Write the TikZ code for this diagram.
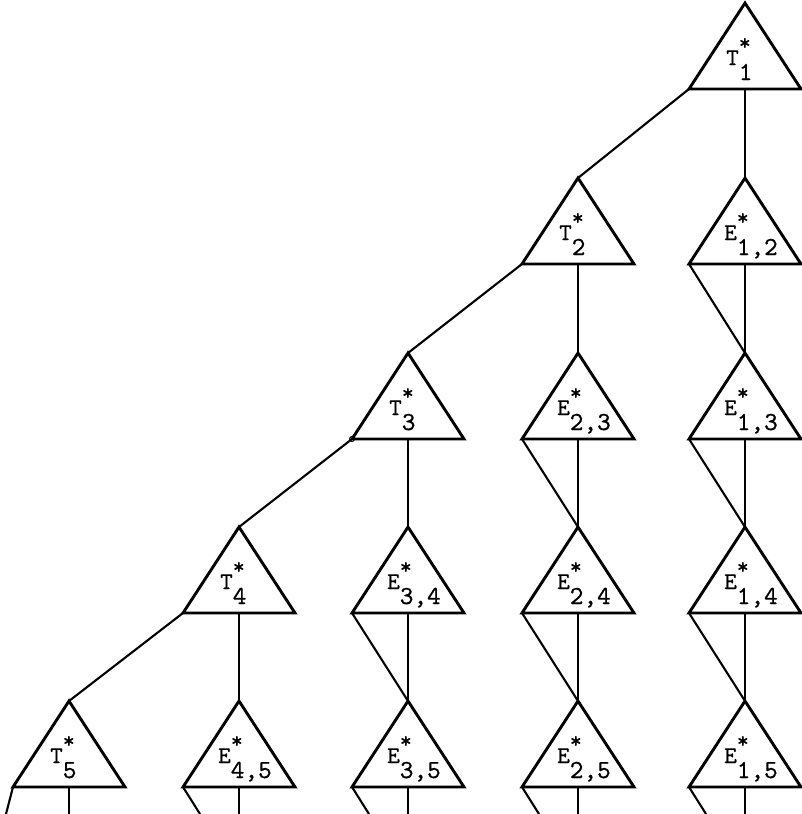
\documentclass[tikz,border=0pt]{standalone}
\usepackage{fontspec}
\newfontfamily\labfont{lmmono10-regular.otf}[FakeBold=0.6]
\tikzset{
  tri/.style={line width=2.9pt, line join=miter},
  conn/.style={line width=2.1pt},
  lbl/.style={inner sep=0pt, anchor=base west, font=\labfont},
}
\newcommand{\trilabel}[2]{{\fontsize{24}{24}\selectfont #1}\rlap{\raisebox{15pt}{\fontsize{23}{23}\selectfont *}}\raisebox{-15pt}{\fontsize{26}{26}\selectfont #2}}
\newcommand{\mktri}[6]{%
  \coordinate (#1a) at (#2,#3);
  \coordinate (#1l) at ({#2-56},{#3+86});
  \coordinate (#1r) at ({#2+56},{#3+86});
  \coordinate (#1m) at (#2,{#3+86});
  \draw[tri] (#1a) -- (#1l) -- (#1r) -- cycle;
  \node[lbl] (#1t) at ({#2+#6},{#3+62}) {\trilabel{#4}{#5}};
}
\begin{document}
\begin{tikzpicture}[x=1pt,y=-1pt]
\useasboundingbox (0,0) rectangle (802,814);
% triangles
\mktri{T1}{745}{3}{T}{1}{-19}
\mktri{T2}{578}{178}{T}{2}{-19}
\mktri{T3}{408}{353}{T}{3}{-19}
\mktri{T4}{239}{527}{T}{4}{-19}
\mktri{T5}{69}{701}{T}{5}{-19}
\mktri{E12}{745}{178}{E}{1,2}{-21}
\mktri{E13}{745}{353}{E}{1,3}{-21}
\mktri{E14}{745}{527}{E}{1,4}{-21}
\mktri{E15}{745}{701}{E}{1,5}{-21}
\mktri{E23}{578}{353}{E}{2,3}{-21}
\mktri{E24}{578}{527}{E}{2,4}{-21}
\mktri{E25}{578}{701}{E}{2,5}{-21}
\mktri{E34}{408}{527}{E}{3,4}{-21}
\mktri{E35}{408}{701}{E}{3,5}{-21}
\mktri{E45}{239}{701}{E}{4,5}{-21}
% T chain
\draw[conn] (T1l) -- (T2a);
\draw[conn] (T2l) -- (T3a);
\draw[conn] (T3l) -- (T4a);
\draw[conn] (T4l) -- (T5a);
\draw[line width=1pt] (T3l) circle (2.5pt);
% T to E
\draw[conn] (T1m) -- (E12a);
\draw[conn] (T2m) -- (E23a);
\draw[conn] (T3m) -- (E34a);
\draw[conn] (T4m) -- (E45a);
% E chains
\draw[conn] (E12m) -- (E13a); \draw[conn] (E12l) -- (E13a);
\draw[conn] (E13m) -- (E14a); \draw[conn] (E13l) -- (E14a);
\draw[conn] (E14m) -- (E15a); \draw[conn] (E14l) -- (E15a);
\draw[conn] (E23m) -- (E24a); \draw[conn] (E23l) -- (E24a);
\draw[conn] (E24m) -- (E25a); \draw[conn] (E24l) -- (E25a);
\draw[conn] (E34m) -- (E35a); \draw[conn] (E34l) -- (E35a);
% stubs at the bottom
\coordinate (s5l) at (6,814);   \coordinate (s5m) at (69,814);
\coordinate (s4l) at (200,814); \coordinate (s4m) at (239,814);
\coordinate (s3l) at (369,814); \coordinate (s3m) at (408,814);
\coordinate (s2l) at (539,814); \coordinate (s2m) at (578,814);
\coordinate (s1l) at (706,814); \coordinate (s1m) at (745,814);
\draw[conn] (T5l) -- (s5l);  \draw[conn] (T5m) -- (s5m);
\draw[conn] (E45l) -- (s4l); \draw[conn] (E45m) -- (s4m);
\draw[conn] (E35l) -- (s3l); \draw[conn] (E35m) -- (s3m);
\draw[conn] (E25l) -- (s2l); \draw[conn] (E25m) -- (s2m);
\draw[conn] (E15l) -- (s1l); \draw[conn] (E15m) -- (s1m);
\end{tikzpicture}
\end{document}
